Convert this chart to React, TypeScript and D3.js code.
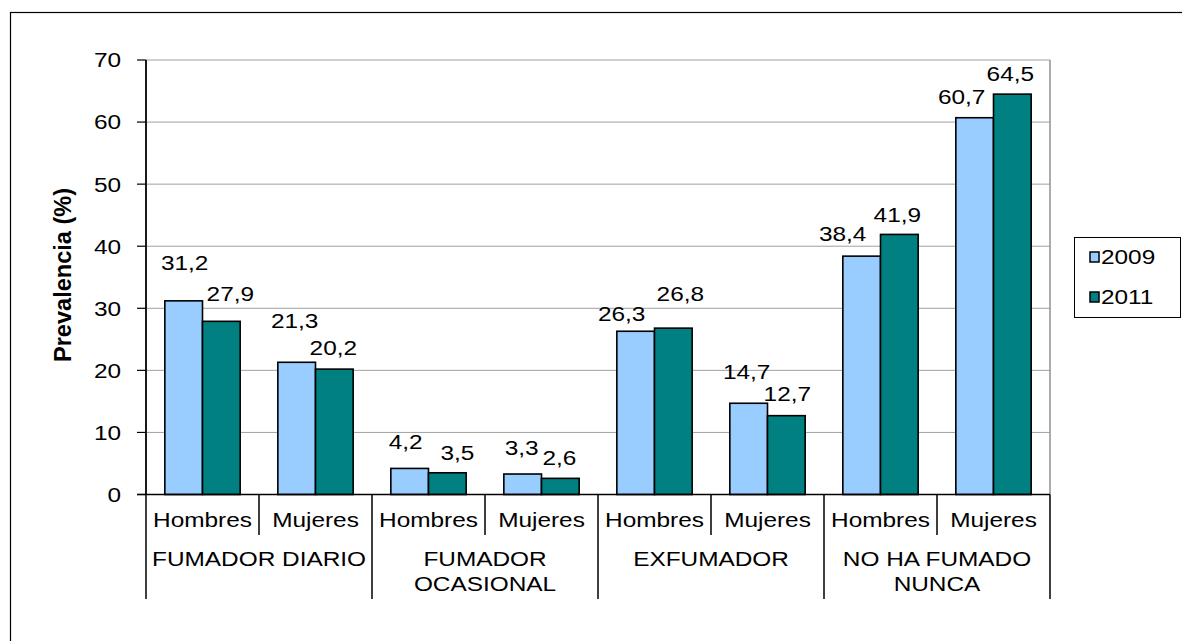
import React from "react";
import * as d3 from "d3";

const groupLabels: string[][] = [
  ["FUMADOR DIARIO"],
  ["FUMADOR", "OCASIONAL"],
  ["EXFUMADOR"],
  ["NO HA FUMADO", "NUNCA"],
];
const sexes = ["Hombres", "Mujeres"];
const seriesNames = ["2009", "2011"];
const values2009 = [31.2, 21.3, 4.2, 3.3, 26.3, 14.7, 38.4, 60.7];
const values2011 = [27.9, 20.2, 3.5, 2.6, 26.8, 12.7, 41.9, 64.5];
const yTicks = [0, 10, 20, 30, 40, 50, 60, 70];
const yTitle = "Prevalencia (%)";

// manual label nudges (px) as placed in the original chart
const nudge2009 = [[1, -38], [-2, -42], [-4, -27], [-1, -26], [-14, -18], [-2, -32], [-19, -23], [-13, -21]];
const nudge2011 = [[9, -28], [-1, -22], [10, -20], [-1, -21], [7, -35], [1, -22], [-2, -20], [-2, -21]];

const colors = ["#99CCFF", "#008080"];
const FONT = "'Liberation Sans', Arial, sans-serif";
const SX = 1.19;
const FS = 20.5;

function T({ x, y, children, anchor = "middle", weight = "normal" }: any) {
  return (
    <text
      transform={`translate(${x},${y}) scale(${SX},1)`}
      textAnchor={anchor}
      dy="0.36em"
      fontFamily={FONT}
      fontSize={FS}
      fontWeight={weight}
      fill="#000"
    >
      {children}
    </text>
  );
}

export default function App() {
  const left = 146, right = 1050, top = 60, bottom = 494.5;
  const y = d3.scaleLinear().domain([0, 70]).range([bottom, top]);
  const cats = d3.range(values2009.length).map(String);
  const x = d3.scaleBand().domain(cats).range([left, right]).paddingInner(0).paddingOuter(0);
  const xi = d3.scaleBand().domain(seriesNames).range([0, x.bandwidth()]).paddingInner(0).paddingOuter(0.5);
  const series = [values2009, values2011];
  const nudges = [nudge2009, nudge2011];
  const groupW = x.bandwidth() * 2;

  return (
    <svg
      width={1182}
      height={641}
      style={{ position: "absolute", left: 0, top: 0, background: "#fff" }}
    >
      <rect x={10.5} y={12.5} width={1190} height={700} fill="#fff" stroke="#000" strokeWidth={1.2} />
      {/* gridlines */}
      {yTicks.map((t) => (
        <line key={"g" + t} x1={left} x2={right} y1={y(t)} y2={y(t)} stroke="#a0a0a0" strokeWidth={1} />
      ))}
      <line x1={right} x2={right} y1={top} y2={bottom} stroke="#909090" strokeWidth={1.5} />
      {/* bars */}
      {series.map((vals, s) =>
        vals.map((v, i) => (
          <rect
            key={s + "-" + i}
            x={(x(String(i)) as number) + (xi(seriesNames[s]) as number)}
            y={y(v)}
            width={xi.bandwidth()}
            height={y(0) - y(v)}
            fill={colors[s]}
            stroke="#000"
            strokeWidth={1.6}
          />
        ))
      )}
      {/* value labels */}
      {series.map((vals, s) =>
        vals.map((v, i) => (
          <T
            key={"l" + s + "-" + i}
            x={(x(String(i)) as number) + (xi(seriesNames[s]) as number) + xi.bandwidth() / 2 + nudges[s][i][0]}
            y={y(v) + nudges[s][i][1]}
          >
            {v.toFixed(1).replace(".", ",")}
          </T>
        ))
      )}
      {/* y axis */}
      <line x1={left} x2={left} y1={top} y2={bottom} stroke="#000" strokeWidth={1.8} />
      {yTicks.map((t) => (
        <g key={"t" + t}>
          <line x1={137} x2={left} y1={y(t)} y2={y(t)} stroke="#000" strokeWidth={1.2} />
          <T x={121} y={y(t)} anchor="end">{t}</T>
        </g>
      ))}
      <line x1={137} x2={right} y1={bottom} y2={bottom} stroke="#000" strokeWidth={1.5} />
      <text
        transform={`translate(71,275) scale(${SX},1) rotate(-90)`}
        textAnchor="middle"
        fontFamily={FONT}
        fontSize={20}
        fontWeight="bold"
        textLength={174}
        lengthAdjust="spacingAndGlyphs"
      >
        {yTitle}
      </text>
      {/* category axis */}
      {cats.map((c, i) => (
        <g key={"c" + c}>
          {i % 2 === 1 && (
            <line x1={x(c)} x2={x(c)} y1={bottom} y2={535} stroke="#000" strokeWidth={1.5} />
          )}
          <T x={(x(c) as number) + x.bandwidth() / 2} y={520}>{sexes[i % 2]}</T>
        </g>
      ))}
      {d3.range(groupLabels.length + 1).map((g) => (
        <line key={"s" + g} x1={left + g * groupW} x2={left + g * groupW} y1={bottom} y2={599} stroke="#000" strokeWidth={1.5} />
      ))}
      {groupLabels.map((lines, g) =>
        lines.map((ln, k) => (
          <T key={"gl" + g + k} x={left + g * groupW + groupW / 2} y={559 + k * 25}>{ln}</T>
        ))
      )}
      {/* legend */}
      <rect x={1074.5} y={237.5} width={106} height={80} fill="#fff" stroke="#000" strokeWidth={1} />
      {seriesNames.map((n, s) => (
        <g key={"lg" + n}>
          <rect x={1090} y={252 + s * 40} width={9} height={10} fill={colors[s]} stroke="#000" strokeWidth={1.5} />
          <T x={1101} y={257 + s * 40} anchor="start">{n}</T>
        </g>
      ))}
    </svg>
  );
}
